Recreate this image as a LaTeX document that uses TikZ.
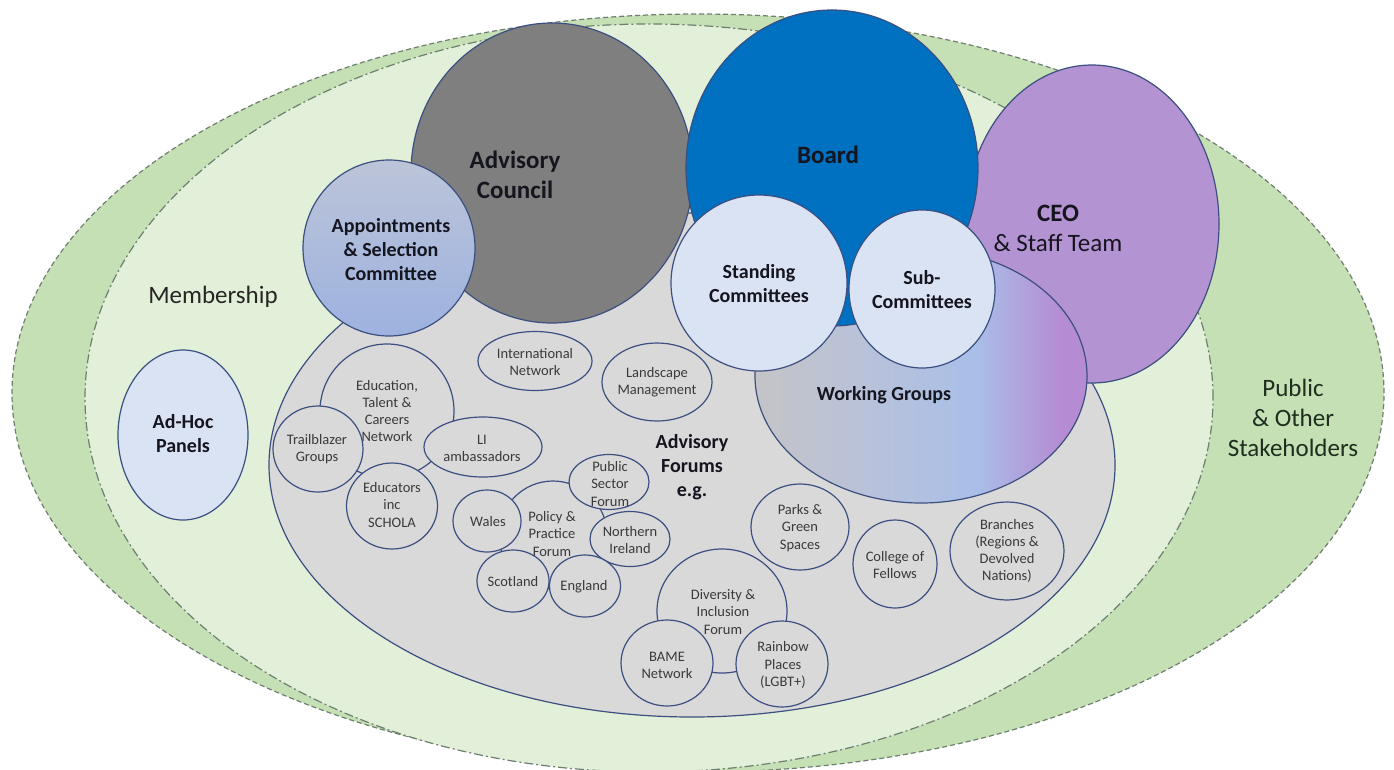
\documentclass[tikz,border=0pt]{standalone}
\usepackage{fontspec}
\setmainfont{Carlito}
\usetikzlibrary{shapes.geometric}

\definecolor{publicgreen}{HTML}{C5E0B4}
\definecolor{membergreen}{HTML}{E2F0D9}
\definecolor{ringline}{HTML}{6E7F70}
\definecolor{forumgray}{HTML}{D9D9D9}
\definecolor{edge}{HTML}{3B4F80}
\definecolor{paleblue}{HTML}{DAE3F3}
\definecolor{councilgray}{HTML}{7F7F7F}
\definecolor{boardblue}{HTML}{0070C0}
\definecolor{ceopurple}{HTML}{B393D1}
\definecolor{apptop}{HTML}{BCC4D8}
\definecolor{appbottom}{HTML}{9DB2E0}
\definecolor{wgA}{HTML}{C4C4C6}
\definecolor{wgAB}{HTML}{BAC2D8}
\definecolor{wgB}{HTML}{A9BFE8}
\definecolor{wgC}{HTML}{B58CD3}
\definecolor{ink}{HTML}{15151F}
\definecolor{smallink}{HTML}{3A3A3A}
\definecolor{greenink}{HTML}{1F2E1F}

% left-to-right blend used by the Working Groups ellipse
\pgfdeclarehorizontalshading{wgshade}{100bp}{color(0bp)=(wgA); color(25bp)=(wgA); color(40bp)=(wgAB); color(58bp)=(wgB); color(71bp)=(wgC); color(100bp)=(wgC)}

\tikzset{
  wh/.style 2 args={minimum width=#1pt, minimum height=#2pt},
  blob/.style={ellipse, draw=edge, line width=1.2pt, inner sep=0pt, outer sep=0pt},
  forumbub/.style={blob, fill=forumgray},
  ring/.style={ellipse, draw=ringline, line width=1.2pt, inner sep=0pt},
  smalltxt/.style={align=center, text=smallink, font=\fontsize{14.5}{17.2}\selectfont, inner sep=0pt},
  boldtxt/.style={align=center, text=ink, font=\bfseries\fontsize{20}{24}\selectfont, inner sep=0pt},
  bigtxt/.style={align=center, text=ink, font=\bfseries\fontsize{25}{30}\selectfont, inner sep=0pt},
  plaintxt/.style={align=center, font=\fontsize{25}{30}\selectfont, inner sep=0pt},
}

\begin{document}
\begin{tikzpicture}[x=1pt,y=-1pt]
\useasboundingbox (0,0) rectangle (1394,769);

% outer rings
\node[ring, fill=publicgreen, dash pattern=on 5pt off 3pt, wh={1372}{758}] (public) at (698,393) {};
\node[ring, fill=membergreen, dash pattern=on 9pt off 3pt on 2pt off 3pt, wh={1128}{748}] (membership) at (649,398) {};

% ad-hoc panels
\node[blob, fill=paleblue, wh={130}{170}] (adhoc) at (183,435) {};

% advisory forums and their members
\node[forumbub, wh={846}{504}] (forums) at (692,465) {};
\node[forumbub, wh={114}{59}] (intl) at (535,361) {};
\node[forumbub, wh={110}{78}] (landscape) at (657,382) {};
\node[forumbub, wh={134}{134}] (edu) at (387,411) {};
\node[forumbub, wh={90}{86}] (trail) at (318,449) {};
\node[forumbub, wh={91}{86}] (schola) at (392,506) {};
\node[forumbub, wh={118}{60}] (li) at (483,447) {};
\node[forumbub, wh={108}{108}] (policy) at (553,535) {};
\node[forumbub, wh={68}{62}] (wales) at (487,521) {};
\node[forumbub, wh={80}{55}] (psf) at (609,482) {};
\node[forumbub, wh={80}{55}] (ni) at (630,539) {};
\node[forumbub, wh={72}{62}] (scot) at (513,581) {};
\node[forumbub, wh={71}{62}] (eng) at (585,586) {};
\node[forumbub, wh={130}{124}] (div) at (722,611) {};
\node[forumbub, wh={92}{86}] (bame) at (667,663) {};
\node[forumbub, wh={92}{86}] (rainbow) at (782,664) {};
\node[forumbub, wh={98}{86}] (parks) at (800,527) {};
\node[forumbub, wh={84}{88}] (college) at (895,564) {};
\node[forumbub, wh={114}{98}] (branches) at (1007,551) {};

% governance bodies
\node[blob, fill=councilgray, wh={282}{300}] (council) at (552,173) {};
\node[blob, top color=apptop, bottom color=appbottom, wh={172}{176}] (appoint) at (389,248) {};
\node[blob, fill=ceopurple, wh={254}{318}] (ceo) at (1092,224) {};
\node[blob, shading=wgshade, wh={332}{254}] (wg) at (921,376) {};
\node[blob, fill=boardblue, wh={292}{316}] (board) at (832,168) {};
\node[blob, fill=paleblue, wh={176}{176}] (standing) at (759,283) {};
\node[blob, fill=paleblue, wh={146}{158}] (sub) at (922,289) {};

% labels
\node[plaintxt, text=black!85] (membership-t) at (213,297) {Membership};
\node[plaintxt, text=greenink] (public-t) at (1293,418) {Public\\\& Other\\Stakeholders};
\node[boldtxt] (adhoc-t) at (183,434) {Ad-Hoc\\Panels};
\node[bigtxt] (council-t) at (515,175) {Advisory\\Council};
\node[boldtxt] (appoint-t) at (391,250) {Appointments\\\& Selection\\Committee};
\node[bigtxt] (board-t) at (828,155) {Board};
\node[align=center, text=ink, font=\fontsize{25}{30}\selectfont, inner sep=0pt] (ceo-t) at (1058,228) {{\bfseries CEO}\\\& Staff Team};
\node[boldtxt] (standing-t) at (759,284) {Standing\\Committees};
\node[boldtxt] (sub-t) at (922,290) {Sub-\\Committees};
\node[boldtxt] (wg-t) at (884,395) {Working Groups};
\node[boldtxt] (forums-t) at (692,467) {Advisory\\Forums\\e.g.};

\node[smalltxt] (intl-t) at (535,362) {International\\Network};
\node[smalltxt] (landscape-t) at (657,382) {Landscape\\Management};
\node[smalltxt] (edu-t) at (387,411) {Education,\\Talent \&\\Careers\\Network};
\node[smalltxt] (trail-t) at (317,449) {Trailblazer\\Groups};
\node[smalltxt] (li-t) at (482,448) {LI\\ambassadors};
\node[smalltxt] (schola-t) at (392,505) {Educators\\inc\\SCHOLA};
\node[smalltxt] (policy-t) at (552,534) {Policy \&\\Practice\\Forum};
\node[smalltxt] (wales-t) at (488,522) {Wales};
\node[smalltxt] (psf-t) at (610,484) {Public\\Sector\\Forum};
\node[smalltxt] (ni-t) at (630,540) {Northern\\Ireland};
\node[smalltxt] (scot-t) at (513,582) {Scotland};
\node[smalltxt] (eng-t) at (584,587) {England};
\node[smalltxt] (div-t) at (723,612) {Diversity \&\\Inclusion\\Forum};
\node[smalltxt] (bame-t) at (667,665) {BAME\\Network};
\node[smalltxt] (rainbow-t) at (783,665) {Rainbow\\Places\\(LGBT+)};
\node[smalltxt] (parks-t) at (800,528) {Parks \&\\Green\\Spaces};
\node[smalltxt] (college-t) at (895,565) {College of\\Fellows};
\node[smalltxt] (branches-t) at (1007,551) {Branches\\(Regions \&\\Devolved\\Nations)};
\end{tikzpicture}
\end{document}
